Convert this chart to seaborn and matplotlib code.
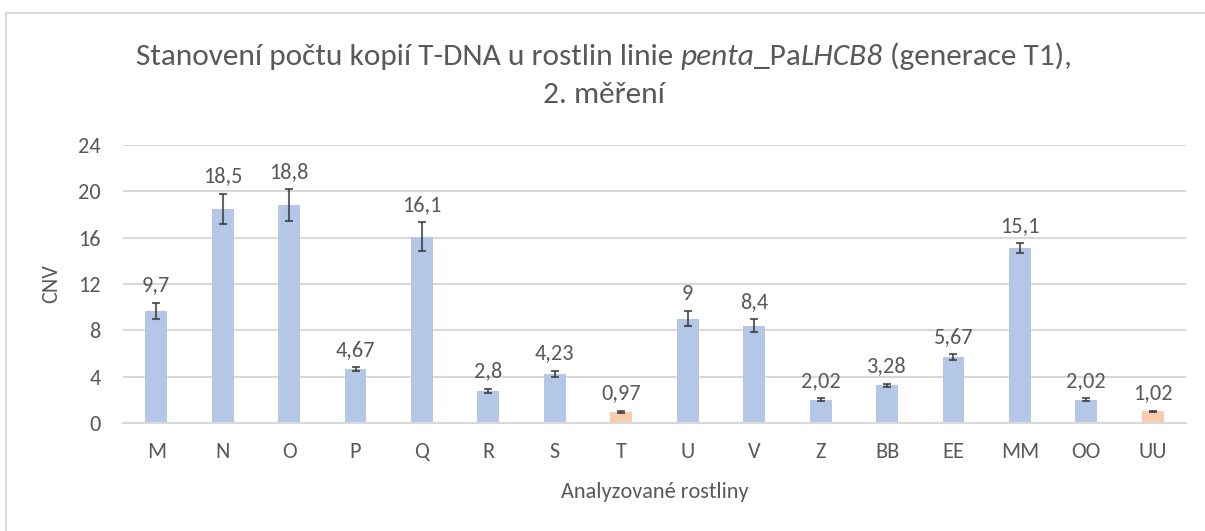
import matplotlib
matplotlib.use("Agg")
import matplotlib.pyplot as plt
from matplotlib import font_manager
from matplotlib.patches import Rectangle
import seaborn as sns
import pandas as pd

# ---- data ----
categories = ["M", "N", "O", "P", "Q", "R", "S", "T", "U", "V", "Z", "BB", "EE", "MM", "OO", "UU"]
cnv_values = [9.7, 18.5, 18.8, 4.67, 16.1, 2.8, 4.23, 0.97, 9, 8.4, 2.02, 3.28, 5.67, 15.1, 2.02, 1.02]
cnv_errors = [0.7, 1.3, 1.4, 0.17, 1.25, 0.17, 0.3, 0.1, 0.65, 0.56, 0.1, 0.13, 0.26, 0.45, 0.1, 0.05]
groups = ["sample", "sample", "sample", "sample", "sample", "sample", "sample", "control",
          "sample", "sample", "sample", "sample", "sample", "sample", "sample", "control"]
y_ticks = [0, 4, 8, 12, 16, 20, 24]

BLUE = "#B4C7E7"
ORANGE = "#F8CBAD"
TEXT = "#595959"
GRID = "#D9D9D9"

sns.set_theme(style="white")
avail = {f.name for f in font_manager.fontManager.ttflist}
FONT = "Carlito" if "Carlito" in avail else "Lato"
plt.rcParams["font.family"] = [FONT, "DejaVu Sans"]
scale = 1.0 if FONT == "Carlito" else 0.87

W, H = 1205, 531
fig = plt.figure(figsize=(W / 100, H / 100), dpi=100)
ax = fig.add_axes([123 / W, 1 - 423 / H, (1186 - 123) / W, (423 - 145) / H])

df = pd.DataFrame({"cat": categories, "cnv": cnv_values, "err": cnv_errors, "grp": groups})
sns.barplot(data=df, x="cat", y="cnv", hue="grp", palette={"sample": BLUE, "control": ORANGE},
            dodge=False, width=0.33, legend=False, ax=ax, zorder=2, linewidth=0, saturation=1)

xpos = list(range(len(categories)))
ax.errorbar(xpos, cnv_values, yerr=cnv_errors, fmt="none", ecolor=(0.2, 0.2, 0.2, 0.75),
            elinewidth=1.5, capsize=3.2, capthick=1.5, zorder=3)

fs_tick = 16 * scale
for x, v, e in zip(xpos, cnv_values, cnv_errors):
    lab = f"{v:g}".replace(".", ",")
    ax.annotate(lab, (x, v + e), xytext=(0, 8), textcoords="offset points",
                ha="center", va="baseline", fontsize=fs_tick, color=TEXT)

ax.set_ylim(0, 24)
ax.set_xlim(-0.5, len(categories) - 0.5)
ax.set_yticks(y_ticks)
ax.set_yticklabels([str(t) for t in y_ticks])
ax.yaxis.grid(True, color=GRID, linewidth=1.5, zorder=0)
ax.xaxis.grid(False)
ax.set_axisbelow(True)
for s in ["top", "right", "left"]:
    ax.spines[s].set_visible(False)
ax.spines["bottom"].set_color(GRID)
ax.spines["bottom"].set_linewidth(1.5)
ax.tick_params(axis="both", length=0, labelsize=fs_tick, labelcolor=TEXT)
ax.tick_params(axis="y", pad=16)
ax.tick_params(axis="x", pad=14)
ax.set_xlabel("Analyzované rostliny", fontsize=fs_tick, color=TEXT, labelpad=14)
ax.set_ylabel("CNV", fontsize=fs_tick, color=TEXT, labelpad=12)

# border of the chart area
fig.patches.append(Rectangle((6 / W, -0.05), 1.1, 1 - 13 / H + 0.05, transform=fig.transFigure,
                             fill=False, edgecolor=GRID, linewidth=1.5))

# title with italic parts
fs_title = 22 * scale * 1.025
renderer = fig.canvas.get_renderer()
pieces = [("Stanovení počtu kopií T-DNA u rostlin linie", "normal", True),
          ("penta", "italic", False),
          ("_Pa", "normal", False),
          ("LHCB8", "italic", True),
          ("(generace T1),", "normal", False)]

def text_w(s, style):
    t = fig.text(0, 0, s, fontsize=fs_title, style=style)
    w = t.get_window_extent(renderer).width
    t.remove()
    return w

space_w = text_w("a a", "normal") - text_w("aa", "normal")
widths = [text_w(p, st) for p, st, _ in pieces]
total = sum(widths) + space_w * sum(1 for _, _, sp in pieces[:-1] if sp)
x0 = 604 - total / 2
y1 = 1 - 65 / H
for (p, st, sp), w in zip(pieces, widths):
    fig.text(x0 / W, y1, p, fontsize=fs_title, style=st, color=TEXT, ha="left", va="baseline")
    x0 += w + (space_w if sp else 0)
fig.text(604 / W, 1 - 103 / H, "2. měření", fontsize=fs_title, color=TEXT, ha="center", va="baseline")

fig.savefig("out.png", dpi=100)
